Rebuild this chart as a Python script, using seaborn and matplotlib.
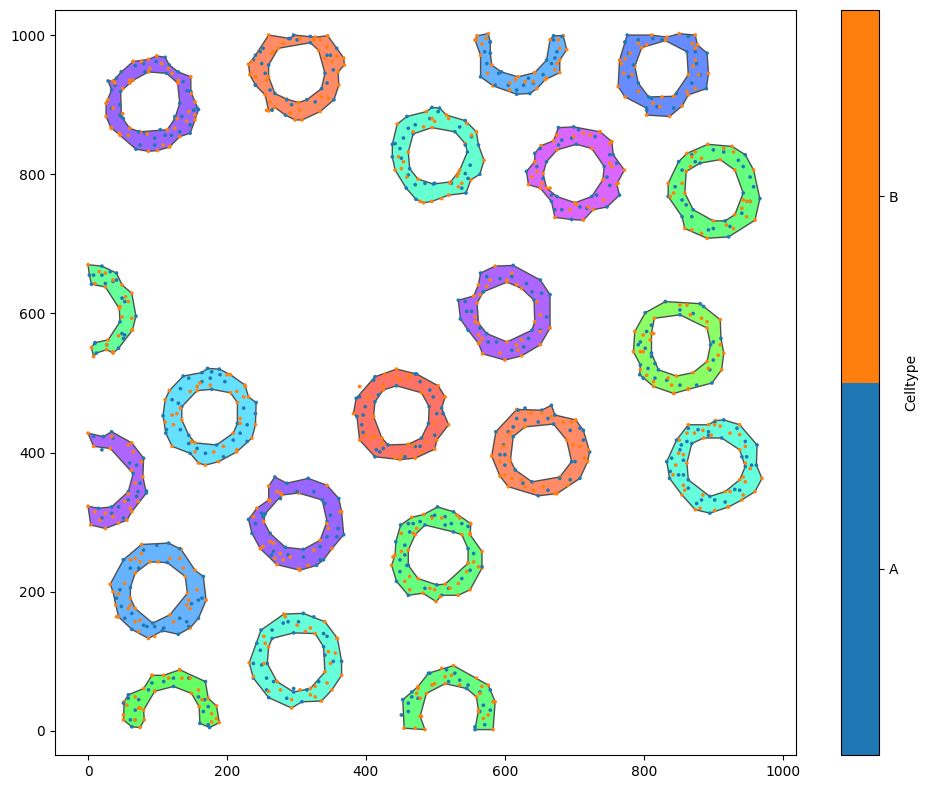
import numpy as np
import pandas as pd
import seaborn as sns
import matplotlib
matplotlib.use("Agg")
import matplotlib.pyplot as plt
from matplotlib.colors import ListedColormap, BoundaryNorm
from matplotlib.cm import ScalarMappable
from matplotlib.patches import PathPatch
from matplotlib.path import Path

celltypes = ["A", "B"]
celltype_colors = ["#1f77b4", "#ff7f0e"]

# ring 1, purple top left
r1_color = "#9966ff"
r1_outer = [(29,934),(36,934),(48,947),(65,962),(87,965),(99,970),(111,968),(117,957),(130,947),(148,940),(148,919),(154,904),(159,893),(154,878),(147,859),(132,854),(117,839),(100,834),(87,833),(69,836),(46,856),(33,867),(26,883),(26,902),(34,921)]
r1_inner = [(87,947),(113,945),(129,931),(132,902),(125,880),(114,864),(75,861),(60,866),(48,883),(47,919),(65,935)]
r1_kinds = "ABBBBBAAABABABABBBBABBBBABABAABBAAABAB"
r1_a = [(68,956),(80,959),(98,962),(48,947),(41,938),(39,928),(82,947),(137,933),(143,920),(152,892),(157,895),(34,895),(46,900),(46,885),(51,880),(58,856),(73,861),(82,859),(96,852),(111,856),(120,856),(132,861),(75,842),(96,842),(104,864),(125,883),(135,883),(147,871)]
r1_b = [(65,962),(77,962),(89,952),(60,935),(60,931),(39,931),(50,923),(106,959),(116,952),(121,945),(130,935),(149,916),(154,885),(145,890),(142,876),(128,880),(125,866),(36,895),(29,907),(50,887),(60,866),(58,856),(85,858),(108,842),(118,840),(34,866),(45,859)]

# ring 2, orange top
r2_color = "#ff8c66"
r2_outer = [(231,958),(241,971),(260,1000),(291,995),(296,1000),(327,997),(345,999),(358,981),(368,967),(369,957),(360,947),(361,928),(354,907),(334,890),(308,878),(298,878),(284,885),(269,896),(260,891),(255,914),(241,928),(233,943)]
r2_inner = [(274,981),(320,989),(332,978),(341,945),(336,923),(315,907),(303,903),(286,908),(269,916),(260,940),(260,957)]
r2_kinds = "BABAABBABBBBABBBABBBABBABAABBBABAB"
r2_a = [(252,981),(248,976),(250,959),(255,945),(262,921),(286,907),(293,900),(315,907),(327,904),(344,931),(353,950),(344,971),(349,971),(320,998),(301,993),(289,995),(238,964),(241,928),(265,892)]
r2_b = [(265,974),(257,935),(267,976),(281,988),(334,993),(325,993),(341,967),(358,969),(351,962),(336,911),(346,909),(305,892),(291,888),(262,904),(241,940),(236,962),(344,983),(305,995),(257,892)]

# horseshoe, blue top
r3_color = "#66b3ff"
r3_outer = [(557,993),(560,999),(576,1002),(579,990),(579,974),(581,957),(595,947),(619,940),(643,946),(660,964),(665,993),(670,999),(684,999),(689,979),(679,964),(679,946),(658,936),(646,923),(636,916),(617,915),(583,927),(565,940),(565,971)]
r3_inner = []
r3_kinds = "BBBAABABBABABBBBBBAABAB"
r3_a = [(571,976),(579,990),(574,959),(591,945),(586,928),(605,928),(617,921),(627,928),(634,938),(641,931),(655,943),(667,959),(672,967),(675,976),(670,993),(682,998)]
r3_b = [(559,993),(567,987),(573,995),(575,945),(607,931),(615,936),(629,933),(641,933),(643,946),(660,938),(672,950),(675,959),(679,981),(677,993),(607,921)]

# ring 4, blue top right
r4_color = "#668cff"
r4_outer = [(776,1000),(811,1000),(833,997),(851,1002),(874,1000),(877,986),(891,974),(893,945),(890,923),(864,914),(855,898),(837,883),(804,885),(804,895),(773,911),(763,926),(765,964),(773,990)]
r4_inner = [(797,982),(831,992),(862,976),(864,943),(843,912),(807,911),(792,931),(787,955)]
r4_kinds = "ABBBBBABABBBBABBBABBABBAAB"
r4_a = [(773,990),(778,974),(785,957),(778,940),(792,993),(813,995),(826,993),(864,998),(874,976),(876,959),(881,943),(869,931),(847,916),(811,909),(819,897),(804,892),(843,895),(792,919)]
r4_b = [(780,974),(773,966),(768,959),(771,945),(792,988),(804,986),(870,988),(874,981),(874,964),(871,955),(879,943),(874,923),(862,919),(826,911),(813,902),(823,897),(792,919),(783,943)]

# ring 5, aqua upper middle
r5_color = "#66ffd1"
r5_outer = [(438,843),(445,872),(459,883),(487,890),(495,896),(506,895),(516,885),(543,877),(559,861),(562,842),(570,820),(564,800),(551,792),(544,773),(519,770),(495,761),(483,759),(472,764),(458,780),(442,806),(438,825)]
r5_inner = [(468,858),(495,867),(528,861),(543,844),(546,832),(535,806),(522,789),(497,786),(475,793),(463,808),(461,832)]
r5_kinds = "ABABAABABABABABBBAABAABABABBABAB"
r5_a = [(471,871),(461,866),(454,852),(449,837),(442,844),(451,823),(461,799),(471,785),(485,787),(499,787),(523,787),(538,780),(547,794),(543,801),(550,813),(543,842),(552,854),(535,868),(504,890),(492,880)]
r5_b = [(468,861),(483,868),(495,880),(499,876),(519,880),(545,873),(552,856),(447,825),(454,818),(451,808),(459,796),(478,761),(521,787),(533,801),(538,787),(531,797),(509,765),(533,782)]

# ring 6, magenta
r6_color = "#d966ff"
r6_outer = [(631,804),(643,818),(643,830),(652,841),(670,848),(677,867),(699,868),(737,861),(754,847),(756,828),(772,806),(761,786),(765,770),(747,753),(727,749),(713,734),(696,735),(672,738),(667,761),(651,780),(634,785)]
r6_inner = [(660,818),(675,835),(703,843),(725,837),(743,811),(741,792),(725,768),(701,759),(675,768),(660,780),(655,801)]
r6_kinds = "ABABBAABBABBAABBABABBABABABABABB"
r6_a = [(682,849),(677,842),(651,837),(646,811),(655,794),(667,770),(682,749),(708,753),(718,751),(732,770),(751,784),(747,796),(761,816),(751,828),(730,854),(706,864),(696,852),(672,749)]
r6_b = [(699,854),(713,859),(723,856),(737,861),(751,844),(751,816),(754,811),(639,796),(646,804),(653,787),(665,780),(694,749),(703,756),(720,753),(742,763),(763,787),(675,856)]

# ring 7, green upper right
r7_color = "#66ff80"
r7_outer = [(835,787),(850,818),(862,830),(892,843),(927,840),(946,828),(958,806),(967,765),(960,734),(922,710),(891,708),(859,722),(855,739),(835,768)]
r7_inner = [(861,804),(881,816),(910,821),(931,806),(943,773),(931,742),(917,733),(900,733),(871,749),(859,773)]
r7_kinds = "BABBBABABABBAABABBABABAB"
r7_a = [(869,828),(900,835),(915,832),(936,820),(943,811),(953,796),(958,782),(953,761),(941,744),(924,725),(900,722),(893,720),(869,739),(855,763),(861,756),(845,782),(855,806),(874,818)]
r7_b = [(874,832),(869,825),(883,823),(915,837),(929,832),(943,763),(948,761),(953,761),(941,751),(948,739),(929,722),(919,727),(883,715),(869,720),(843,773),(838,768),(855,787),(867,811)]

# arc 8, green left edge
r8_color = "#66ff99"
r8_outer = [(0,670),(20,668),(41,658),(49,641),(63,629),(69,596),(64,576),(44,550),(36,543),(27,548),(12,543),(8,538),(5,551),(10,558),(29,562),(46,588),(45,607),(25,638),(5,642),(2,655)]
r8_inner = []
r8_kinds = "BAABBABABBABBABABBAA"
r8_a = [(8,655),(20,655),(25,643),(36,646),(41,648),(49,622),(53,617),(49,571),(53,569),(51,564),(27,555),(10,557),(32,660)]
r8_b = [(16,660),(10,643),(36,648),(25,658),(54,624),(58,617),(46,610),(49,595),(63,593),(63,576),(44,568),(36,545),(27,555)]

# ring 9, cyan
r9_color = "#66e0ff"
r9_outer = [(108,453),(111,476),(117,489),(137,510),(164,515),(172,521),(189,520),(205,512),(226,497),(231,480),(242,472),(241,440),(236,421),(214,401),(188,387),(169,382),(159,385),(147,399),(121,409),(112,428)]
r9_inner = [(135,466),(157,489),(178,491),(205,486),(215,472),(215,442),(209,428),(185,411),(154,414),(145,425),(135,447)]
r9_kinds = "ABBAAAABBBABBBBBBABAABABBABABAB"
r9_a = [(178,516),(190,512),(197,502),(176,507),(164,502),(145,507),(133,492),(121,476),(130,471),(113,433),(133,433),(145,413),(157,406),(169,399),(195,394),(209,418),(229,416),(219,428),(229,440),(224,464),(241,456)]
r9_b = [(157,495),(176,497),(147,488),(161,500),(133,464),(128,456),(121,454),(111,444),(123,440),(149,416),(154,401),(181,401),(195,409),(214,404),(219,442),(219,449),(224,480),(214,488),(226,495),(200,512)]

# ring 10, red
r10_color = "#ff7366"
r10_outer = [(382,456),(386,478),(413,509),(444,520),(473,513),(504,496),(514,480),(509,464),(519,440),(502,418),(499,405),(471,392),(449,390),(413,394),(391,418),(387,452)]
r10_inner = [(413,473),(425,490),(444,496),(480,486),(491,466),(490,442),(480,421),(461,412),(432,411),(423,421),(411,452)]
r10_kinds = "BAABABBABBBBBABAABABAAABABB"
r10_a = [(411,504),(418,483),(391,480),(399,466),(396,454),(394,440),(396,429),(415,404),(425,406),(420,401),(456,394),(471,409),(478,409),(499,425),(502,456),(511,456),(497,480),(478,502),(471,513),(492,490)]
r10_b = [(427,512),(444,509),(449,504),(461,507),(463,512),(391,495),(403,480),(411,452),(399,425),(408,421),(413,423),(423,413),(442,392),(451,397),(468,411),(480,401),(487,416),(499,442),(425,497)]

# ring 11, purple middle
r11_color = "#ad66ff"
r11_outer = [(533,619),(555,625),(562,641),(565,658),(586,668),(612,669),(651,648),(665,627),(665,579),(651,555),(624,539),(600,533),(568,542),(562,557),(547,576),(536,592)]
r11_inner = [(560,615),(569,631),(603,645),(624,636),(642,619),(643,588),(639,576),(603,559),(574,571),(562,586)]
r11_kinds = "ABBABAAABBBBBBAABABBABABAB"
r11_a = [(574,653),(593,650),(610,653),(631,643),(639,631),(653,629),(660,595),(651,576),(634,564),(627,552),(610,547),(576,559),(588,559),(545,603),(552,603),(543,617),(564,579)]
r11_b = [(579,648),(574,639),(564,627),(603,648),(617,641),(610,658),(651,598),(646,617),(651,574),(624,562),(617,555),(619,547),(593,543),(557,595),(557,588),(567,564),(564,559),(562,569)]

# ring 12, bright green
r12_color = "#8cff66"
r12_outer = [(785,545),(787,574),(802,601),(831,617),(881,614),(910,591),(911,564),(915,543),(912,519),(898,500),(864,491),(843,485),(814,495),(794,512),(795,526)]
r12_inner = [(815,593),(852,598),(891,579),(896,555),(891,531),(871,515),(847,510),(821,519),(811,543),(811,571)]
r12_kinds = "BBABABABBABBBAABABABBBAABB"
r12_a = [(811,583),(804,574),(795,559),(792,555),(802,550),(811,538),(816,528),(806,521),(799,507),(816,507),(833,504),(852,497),(876,497),(895,519),(900,533),(900,559),(871,600),(852,605),(831,617),(886,610)]
r12_b = [(799,569),(814,571),(809,562),(795,545),(799,545),(795,519),(804,511),(814,502),(835,507),(840,497),(864,492),(843,485),(893,521),(910,555),(907,540),(891,588),(883,593),(867,598),(852,612),(862,612)]

# ring 13, orange lower
r13_color = "#ff8c66"
r13_outer = [(581,395),(587,430),(617,462),(653,461),(667,468),(672,454),(702,447),(713,432),(722,401),(719,387),(708,363),(675,341),(648,338),(605,351),(593,366)]
r13_inner = [(612,423),(629,437),(670,441),(689,418),(696,387),(679,365),(639,358),(615,375),(608,389)]
r13_kinds = "BABAAABAABABABBABABABBAB"
r13_a = [(619,461),(629,464),(617,449),(629,447),(648,444),(662,449),(694,432),(708,435),(713,418),(701,387),(593,397),(600,397),(600,382),(612,437),(626,356),(639,358),(662,346),(679,363),(694,361),(605,430),(598,411)]
r13_b = [(638,457),(653,457),(667,452),(684,444),(696,444),(607,428),(598,409),(593,387),(600,368),(610,363),(624,361),(641,346),(655,351),(672,341),(691,353),(698,411),(708,409),(720,404),(715,392),(629,351)]

# ring 14, aqua right
r14_color = "#66ffde"
r14_outer = [(833,387),(847,418),(864,440),(893,440),(903,446),(915,447),(938,440),(963,411),(962,382),(970,363),(960,344),(941,332),(922,322),(895,313),(874,318),(855,339),(837,363)]
r14_inner = [(869,413),(886,421),(912,421),(938,404),(946,380),(938,361),(917,344),(895,337),(864,361),(862,385)]
r14_kinds = "AABBBABAABBBBABBAABABABBAAB"
r14_a = [(864,435),(878,433),(893,430),(893,425),(862,416),(854,411),(852,404),(840,392),(857,389),(838,373),(850,368),(857,368),(864,349),(876,327),(883,332),(902,332),(917,329),(931,347),(938,346),(955,382),(948,394),(941,394),(946,416),(934,435),(902,444)]
r14_b = [(851,418),(862,428),(873,428),(885,432),(897,425),(902,440),(910,438),(924,428),(938,426),(946,409),(946,385),(953,377),(943,365),(946,358),(924,344),(943,339),(857,353),(859,346),(850,399),(857,397),(846,382),(842,368),(885,339),(881,320),(902,317),(921,322)]

# arc 15, purple left edge
r15_color = "#ad66ff"
r15_outer = [(0,428),(22,423),(34,430),(63,414),(80,392),(79,365),(84,342),(63,315),(56,303),(25,291),(4,296),(0,323),(15,320),(34,322),(58,344),(65,370),(32,406),(8,409)]
r15_inner = []
r15_kinds = "BAABABABBBBBAAAABB"
r15_a = [(8,423),(22,423),(20,404),(36,421),(60,385),(70,382),(75,356),(84,345),(58,332),(44,322),(34,313),(20,306),(70,337),(51,306),(72,344)]
r15_b = [(34,423),(58,411),(65,401),(77,387),(63,375),(68,356),(72,330),(61,320),(53,330),(36,308),(25,313),(10,315),(17,303),(44,299),(58,341)]

# ring 16, purple lower
r16_color = "#9966ff"
r16_outer = [(231,304),(243,320),(260,332),(260,352),(269,365),(286,356),(317,363),(344,353),(361,334),(365,315),(368,282),(351,262),(339,246),(329,238),(305,231),(272,239),(248,262),(236,284)]
r16_inner = [(255,312),(279,339),(303,342),(337,332),(344,301),(334,274),(310,261),(284,264),(262,284),(253,301)]
r16_kinds = "ABBBAAABABABAABBBAABBAABAABB"
r16_a = [(241,298),(250,313),(252,308),(262,284),(267,258),(277,334),(301,344),(325,344),(341,327),(349,310),(360,291),(358,279),(344,279),(334,265),(334,246),(310,250),(288,253),(264,253)]
r16_b = [(238,308),(252,265),(262,272),(267,270),(277,255),(291,250),(269,248),(281,246),(303,233),(317,238),(344,298),(363,315),(346,291),(325,260),(277,342),(262,330),(272,344)]

# ring 17, blue lower
r17_color = "#66b3ff"
r17_outer = [(32,211),(51,246),(77,268),(116,270),(134,261),(154,231),(166,222),(170,188),(159,162),(147,148),(130,139),(107,144),(87,133),(63,146),(44,164),(40,181),(36,200)]
r17_inner = [(61,206),(68,227),(89,243),(114,242),(140,222),(143,198),(118,167),(93,155),(68,176),(61,191)]
r17_kinds = "BABABBABABAABABBBABBABBBABB"
r17_a = [(51,246),(61,234),(80,260),(99,267),(132,262),(73,234),(41,191),(48,179),(53,162),(63,169),(80,152),(85,150),(96,150),(109,148),(132,162),(142,157),(145,150),(159,188),(149,183),(164,191),(46,203)]
r17_b = [(61,246),(68,248),(77,255),(75,243),(101,243),(118,248),(132,248),(137,234),(157,203),(147,176),(142,181),(53,212),(44,197),(61,181),(58,176),(75,159),(68,157),(73,143),(96,136),(123,157),(145,188),(41,164)]

# ring 18, aqua bottom
r18_color = "#66ffd9"
r18_outer = [(232,98),(249,145),(282,168),(310,169),(341,157),(359,133),(365,100),(365,80),(351,59),(336,43),(308,42),(293,33),(260,48),(238,76)]
r18_inner = [(260,121),(265,133),(296,141),(327,140),(339,121),(341,85),(320,61),(296,56),(272,71),(258,97)]
r18_kinds = "BABABBABBBABAABAABABBABA"
r18_a = [(281,155),(288,157),(303,157),(265,145),(243,126),(248,116),(238,97),(250,95),(257,76),(267,71),(296,61),(315,59),(332,71),(344,136),(339,140),(353,100),(341,109),(286,47),(257,59),(325,164)]
r18_b = [(301,152),(320,148),(313,143),(284,164),(253,136),(255,126),(253,97),(238,78),(260,57),(277,59),(305,59),(327,64),(344,69),(320,52),(327,49),(293,45),(346,114),(349,97),(356,112),(358,133)]

# arc 19, green bottom left
r19_color = "#66ff66"
r19_outer = [(52,42),(58,52),(80,61),(92,80),(109,80),(132,88),(169,71),(173,47),(185,36),(189,12),(175,5),(161,11),(160,35),(149,54),(123,64),(96,57),(80,30),(81,16),(75,5),(63,6),(51,16)]
r19_inner = []
r19_kinds = "BABBBBABBBAABBAABBBAB"
r19_a = [(58,47),(73,45),(68,30),(61,16),(68,16),(92,69),(109,71),(123,76),(145,76),(159,49),(173,35),(168,45),(166,28),(173,9),(87,59),(51,40)]
r19_b = [(68,49),(75,33),(68,16),(92,80),(96,57),(116,76),(132,88),(135,76),(147,76),(159,59),(164,45),(178,25),(178,13),(185,18),(56,37),(51,23),(73,33)]

# arc 20, green bottom middle
r20_color = "#66ff80"
r20_outer = [(453,45),(466,56),(475,64),(490,83),(526,94),(576,66),(586,42),(583,2),(557,2),(562,30),(559,49),(545,61),(514,68),(487,54),(478,21),(485,2),(455,4)]
r20_inner = []
r20_kinds = "AABABBBBABBABBBBB"
r20_a = [(466,49),(461,40),(461,28),(451,23),(475,47),(492,83),(516,88),(528,83),(535,73),(547,66),(564,56),(579,59),(569,37),(564,28),(579,30),(557,6),(571,9),(519,71)]
r20_b = [(473,54),(475,61),(480,21),(495,66),(499,68),(509,90),(514,78),(523,80),(535,66),(559,76),(567,64),(564,54),(583,42),(562,28),(569,18),(576,23),(471,4),(478,47)]

# ring 21, green middle
r21_color = "#66ff80"
r21_outer = [(437,238),(442,253),(443,272),(450,296),(466,307),(483,311),(503,322),(526,315),(551,298),(550,282),(567,258),(567,234),(550,203),(533,195),(509,195),(501,186),(482,198),(461,195),(444,215)]
r21_inner = [(461,260),(471,282),(485,296),(526,286),(538,282),(547,262),(547,241),(514,211),(502,210),(475,219),(461,238)]
r21_kinds = "BBAABBAABBBBBBABBAABBAABABBABA"
r21_a = [(461,298),(468,298),(463,286),(478,301),(495,308),(499,310),(514,308),(523,298),(514,296),(538,298),(547,294),(456,267),(456,253),(449,246),(459,238),(449,229),(485,205),(519,205),(538,219),(550,231),(567,236),(555,255)]
r21_b = [(451,284),(468,284),(473,291),(495,306),(509,306),(531,310),(535,306),(550,284),(547,241),(555,243),(562,236),(545,229),(533,212),(521,205),(499,203),(492,205),(507,193),(463,222),(456,215),(451,258),(439,250),(463,203)]

ns = globals()
rows = []
shapes = []
for i in range(1, 22):
    outer = ns[f"r{i}_outer"]
    inner = ns[f"r{i}_inner"]
    shapes.append((outer, inner, ns[f"r{i}_color"]))
    for (x, y), k in zip(outer + inner, ns[f"r{i}_kinds"]):
        rows.append((x, y, k))
    rows += [(x, y, "A") for x, y in ns[f"r{i}_a"]]
    rows += [(x, y, "B") for x, y in ns[f"r{i}_b"]]
df = pd.DataFrame(rows, columns=["x", "y", "Celltype"])


def signed_area(part):
    xs, ys = np.array(part).T
    return 0.5 * np.sum(xs * np.roll(ys, -1) - np.roll(xs, -1) * ys)


def ring_path(outer, inner):
    # hole has to wind the other way round or it gets filled
    verts = []
    codes = []
    for part, sign in ((outer, 1), (inner, -1)):
        if len(part) == 0:
            continue
        if signed_area(part) * sign < 0:
            part = part[::-1]
        verts += list(part) + [part[0]]
        codes += [Path.MOVETO] + [Path.LINETO] * (len(part) - 1) + [Path.CLOSEPOLY]
    return Path(verts, codes)


W, H = 927, 789
fig = plt.figure(figsize=(W / 100, H / 100), dpi=100)
ax = fig.add_axes([55 / W, (H - 755) / H, 741 / W, 745 / H])
cax = fig.add_axes([841 / W, (H - 755) / H, 38 / W, 745 / H])

for outer, inner, color in shapes:
    ax.add_patch(PathPatch(ring_path(outer, inner), facecolor=color,
                           edgecolor="#505050", lw=1.0, zorder=1))

sns.scatterplot(data=df, x="x", y="y", hue="Celltype", hue_order=celltypes,
                palette=celltype_colors, s=7, linewidth=0, legend=False,
                ax=ax, zorder=2)
ax.set_xlim(-47.5, 1019)
ax.set_ylim(-34.5, 1036)
ax.set_xlabel("")
ax.set_ylabel("")
ax.set_xticks([0, 200, 400, 600, 800, 1000])
ax.set_yticks([0, 200, 400, 600, 800, 1000])

cmap = ListedColormap(celltype_colors)
norm = BoundaryNorm([0, 1, 2], cmap.N)
cb = fig.colorbar(ScalarMappable(norm=norm, cmap=cmap), cax=cax, ticks=[0.5, 1.5])
cb.ax.set_yticklabels(celltypes)
cb.set_label("Celltype")
cb.ax.minorticks_off()

fig.savefig("out.png", dpi=100)
